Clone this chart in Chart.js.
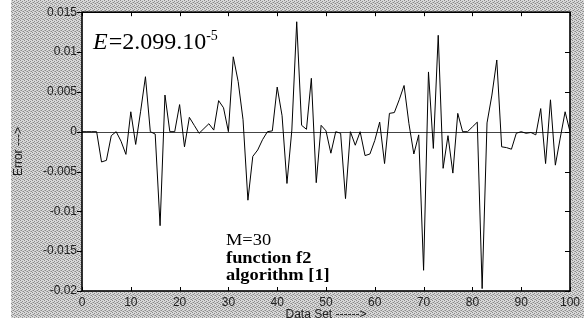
<!DOCTYPE html>
<html><head><meta charset="utf-8">
<script src="https://cdn.jsdelivr.net/npm/chart.js@4/dist/chart.umd.min.js"></script>
<style>html,body{margin:0;padding:0;background:#fff;}#wrap{width:584px;height:322px;position:relative}</style>
</head><body><div id="wrap"><canvas id="c" width="584" height="322"></canvas></div>
<script>
// Error values for data sets 0..100
const errorValues = [
  0, 0, 0, 0, -0.0038, -0.0036, -0.0005, 0, -0.0012, -0.00285,
  0.0025, -0.0016, 0.0025, 0.0069, 0, -0.0003, -0.0118, 0.0046, 0, 0,
  0.0034, -0.0019, 0.0018, 0.0008, -0.0002, 0.0004, 0.0010, 0.0002, 0.0039, 0.0030,
  0, 0.0094, 0.0063, 0.0015, -0.0086, -0.0031, -0.0023, -0.0010, 0, 0.0001,
  0.0056, 0.0020, -0.0065, 0.0002, 0.0138, 0.0008, 0.0003, 0.0067, -0.0064, 0.0008,
  0.0001, -0.0027, 0, -0.0002, -0.0084, 0, -0.0017, 0, -0.0030, -0.0028,
  -0.0011, 0.0012, -0.0040, 0.0023, 0.0024, 0.0040, 0.0058, 0.0010, -0.0028, -0.0004,
  -0.0174, 0.0075, -0.0021, 0.0121, -0.0046, -0.0005, -0.0052, 0.0023, 0, 0,
  0.0006, 0.0012, -0.0197, 0.0011, 0.0046, 0.0090, -0.0019, -0.0020, -0.0022, -0.0002,
  0, -0.0002, -0.0001, -0.0004, 0.0029, -0.0040, 0.0040, -0.0042, -0.0008, 0.0025,
  0
];
const yTickValues = [-0.02, -0.015, -0.01, -0.005, 0, 0.005, 0.01, 0.015];
const yTickLabels = ['-0.02', '-0.015', '-0.01', '-0.005', '0', '0.005', '0.01', '0.015'];
const xTickValues = [0, 10, 20, 30, 40, 50, 60, 70, 80, 90, 100];
const xTickLabels = ['0', '10', '20', '30', '40', '50', '60', '70', '80', '90', '100'];
const xTitle = 'Data Set ------>';
const yTitle = 'Error --->';
const noteLines = ['M=30', 'function f2', 'algorithm [1]'];

const points = errorValues.map((v, i) => ({x: i, y: v}));

function greyPattern(ctx) {
  const p = document.createElement('canvas');
  p.width = 4; p.height = 4;
  const g = p.getContext('2d');
  g.fillStyle = '#d8d8d8'; g.fillRect(0, 0, 4, 4);
  g.fillStyle = '#8a8a8a';
  g.fillRect(0, 0, 1, 1); g.fillRect(2, 1, 1, 1); g.fillRect(1, 2, 1, 1); g.fillRect(3, 3, 1, 1);
  g.fillStyle = '#b0b0b0';
  g.fillRect(2, 3, 1, 1); g.fillRect(0, 2, 1, 1);
  return ctx.createPattern(p, 'repeat');
}

const framePlugin = {
  id: 'frame',
  beforeDraw(chart) {
    const {ctx, chartArea: a} = chart;
    ctx.save();
    ctx.fillStyle = '#fff'; ctx.fillRect(0, 0, chart.width, chart.height);
    ctx.fillStyle = greyPattern(ctx); ctx.fillRect(11, 0, chart.width - 11, 318);
    ctx.fillStyle = '#fff'; ctx.fillRect(a.left, a.top, a.right - a.left, a.bottom - a.top);
    ctx.restore();
  },
  beforeDatasetsDraw(chart) {
    const {ctx, chartArea: a, scales} = chart;
    const y0 = Math.round(scales.y.getPixelForValue(0)) + 0.5;
    ctx.save();
    ctx.strokeStyle = '#444'; ctx.lineWidth = 1;
    ctx.beginPath(); ctx.moveTo(a.left, y0); ctx.lineTo(a.right, y0); ctx.stroke();
    ctx.restore();
  },
  afterDatasetsDraw(chart) {
    const {ctx, chartArea: a, scales} = chart;
    ctx.save();
    ctx.strokeStyle = '#000';
    ctx.lineWidth = 1;
    // ticks
    ctx.beginPath();
    xTickValues.forEach(v => {
      const px = Math.round(scales.x.getPixelForValue(v)) + 0.5;
      ctx.moveTo(px, a.top); ctx.lineTo(px, a.top + 4);
      ctx.moveTo(px, a.bottom); ctx.lineTo(px, a.bottom - 4);
    });
    yTickValues.forEach(v => {
      const py = Math.round(scales.y.getPixelForValue(v)) + 0.5;
      ctx.moveTo(a.left - 5, py); ctx.lineTo(a.left, py);
      ctx.moveTo(a.right, py); ctx.lineTo(a.right - 5, py);
    });
    ctx.stroke();
    // border
    ctx.lineWidth = 1.6;
    ctx.strokeRect(a.left, a.top, a.right - a.left, a.bottom - a.top);
    // E annotation
    ctx.fillStyle = '#000';
    ctx.textBaseline = 'alphabetic';
    let x = 93;
    ctx.font = 'italic 24px "Liberation Serif", "Times New Roman", serif';
    ctx.fillText('E', x, 49);
    x += ctx.measureText('E').width + 1;
    ctx.font = '24px "Liberation Serif", "Times New Roman", serif';
    ctx.fillText('=2.099.10', x, 49);
    x += ctx.measureText('=2.099.10').width;
    ctx.font = '14px "Liberation Serif", "Times New Roman", serif';
    ctx.fillText('-5', x, 40);
    // note block
    const fonts = ['16px', 'bold 16px', 'bold 16px'];
    const base = [245, 263, 280];
    noteLines.forEach((t, i) => {
      ctx.save();
      ctx.translate(226, base[i]);
      ctx.scale(1.15, 1);
      ctx.font = fonts[i] + ' "Liberation Serif", "Times New Roman", serif';
      ctx.fillText(t, 0, 0);
      ctx.restore();
    });
    ctx.restore();
  }
};

new Chart(document.getElementById('c'), {
  type: 'line',
  data: {
    datasets: [{
      data: points,
      borderColor: '#000',
      borderWidth: 1,
      pointRadius: 0,
      tension: 0,
      fill: false
    }]
  },
  options: {
    responsive: false,
    animation: false,
    devicePixelRatio: 1,
    layout: {padding: {left: 0, top: 12, right: 13, bottom: 0}},
    plugins: {legend: {display: false}, tooltip: {enabled: false}},
    scales: {
      x: {
        type: 'linear', min: 0, max: 100,
        afterFit(s) { s.height = 31; },
        afterBuildTicks(s) { s.ticks = xTickValues.map(v => ({value: v})); },
        grid: {display: false, drawTicks: false},
        border: {display: false},
        ticks: {
          padding: 4, maxRotation: 0, autoSkip: false, color: '#222',
          font: {family: '"Liberation Sans", Arial, sans-serif', size: 12},
          callback: (v) => xTickLabels[xTickValues.indexOf(v)]
        },
        title: {display: true, text: xTitle, color: '#222', padding: {top: 0, bottom: 0},
          font: {family: '"Liberation Sans", Arial, sans-serif', size: 12}}
      },
      y: {
        type: 'linear', min: -0.02, max: 0.015,
        afterFit(s) { s.width = 82; },
        afterBuildTicks(s) { s.ticks = yTickValues.map(v => ({value: v})); },
        grid: {display: false, drawTicks: false},
        border: {display: false},
        ticks: {
          padding: 5, autoSkip: false, color: '#222',
          font: {family: '"Liberation Sans", Arial, sans-serif', size: 12},
          callback: (v) => yTickLabels[yTickValues.findIndex(t => Math.abs(t - v) < 1e-9)]
        },
        title: {display: true, text: yTitle, color: '#222', padding: {top: 11, bottom: 0},
          font: {family: '"Liberation Sans", Arial, sans-serif', size: 12}}
      }
    }
  },
  plugins: [framePlugin]
});
</script>
</body></html>
